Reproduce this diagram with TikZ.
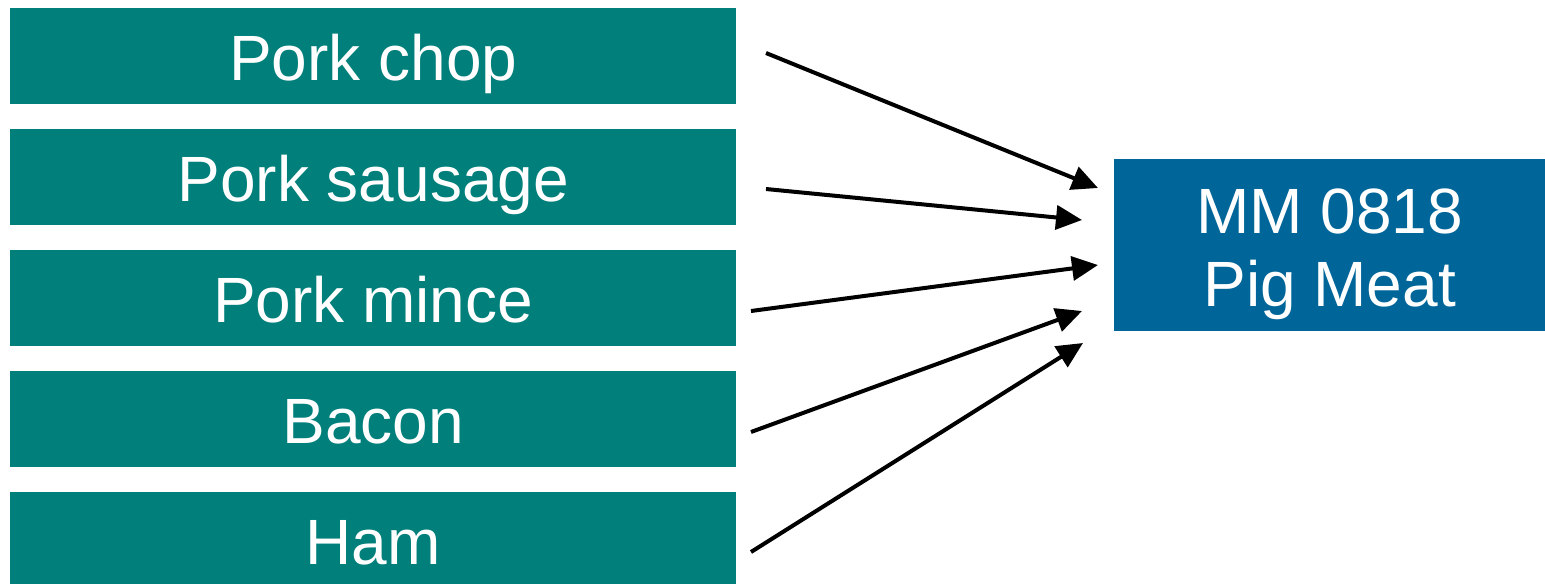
\documentclass[tikz,border=0pt]{standalone}
\usepackage{fontspec}
\setmainfont{Liberation Sans}
\usetikzlibrary{arrows.meta}
\definecolor{tealbox}{HTML}{007F7B}
\definecolor{bluebox}{HTML}{006699}
\begin{document}
\begin{tikzpicture}[x=1pt,y=-1pt,
  item/.style={fill=tealbox,draw=none,text=white,minimum width=726pt,minimum height=96pt,inner sep=0pt,anchor=north west,text height=48pt,text depth=0pt,font=\fontsize{64}{73}\selectfont},
  target/.style={fill=bluebox,draw=none,text=white,minimum width=431pt,minimum height=172pt,inner sep=0pt,anchor=north west,align=center,text height=122pt,text depth=0pt,font=\fontsize{64}{73}\selectfont},
  link/.style={line width=4pt,-{Triangle[length=26pt,width=24pt]}}]
\useasboundingbox (0,0) rectangle (1545,584);
\node[item] (a) at (10,8) {Pork chop};
\node[item] (b) at (10,129) {Pork sausage};
\node[item] (c) at (10,250) {Pork mince};
\node[item] (d) at (10,371) {Bacon};
\node[item,minimum height=92pt,text height=52pt] (e) at (10,492) {Ham};
\node[target] (t) at (1114,159) {MM 0818\\Pig Meat};
\coordinate (a1) at (766,53);   \coordinate (a2) at (1098,188);
\coordinate (b1) at (766,189);  \coordinate (b2) at (1082,220);
\coordinate (c1) at (751,311);  \coordinate (c2) at (1098,265);
\coordinate (d1) at (751,432);  \coordinate (d2) at (1082,311);
\coordinate (e1) at (751,552);  \coordinate (e2) at (1083,343);
\draw[link] (a1) -- (a2);
\draw[link] (b1) -- (b2);
\draw[link] (c1) -- (c2);
\draw[link] (d1) -- (d2);
\draw[link] (e1) -- (e2);
\end{tikzpicture}
\end{document}
